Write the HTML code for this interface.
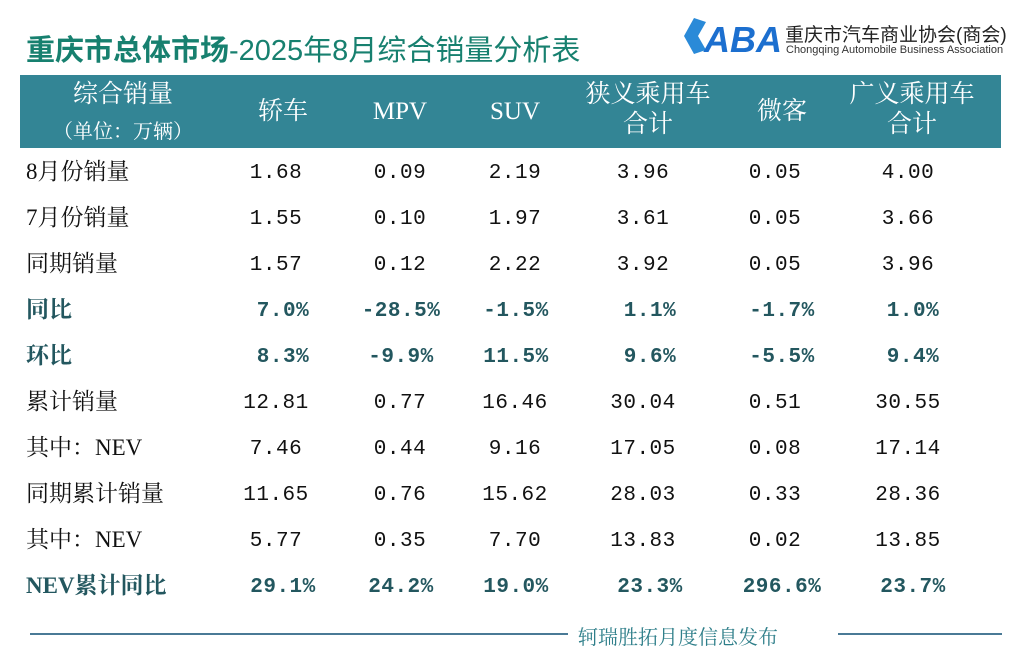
<!DOCTYPE html>
<html><head><meta charset="utf-8"><style>
body{margin:0;width:1036px;height:661px;background:#fff;position:relative;overflow:hidden;font-family:"Liberation Sans","Noto Sans CJK SC",sans-serif}
.a{position:absolute;white-space:nowrap}
.t{left:26px;top:34px;font-size:29px;line-height:34px;color:#17806f;font-family:"Liberation Sans","Noto Sans CJK SC",sans-serif}
.hd{position:absolute;left:20px;top:75px;width:981px;height:73px;background:#338595}
.h{position:absolute;color:#fff;font-family:"Liberation Serif","Noto Serif CJK SC",serif;font-size:25px;transform:translateX(-50%);text-align:center;line-height:30px;white-space:nowrap}
.l{position:absolute;left:26px;font-size:23px;line-height:24px;height:24px;margin-top:-13px;color:#111;font-family:"Liberation Serif","Noto Serif CJK SC",serif;white-space:nowrap}
.v{position:absolute;font-family:"Liberation Mono","Noto Serif CJK SC",monospace;font-size:21px;line-height:22px;margin-top:-10px;color:#111;transform:translateX(-50%);letter-spacing:0.5px}
.p{color:#23575f;font-weight:bold}
.pl{color:#23575f;font-weight:bold}
</style></head><body>
<div class="a t"><b>重庆市总体市场</b>-2025年8月综合销量分析表</div>
<div class="a" style="left:680px;top:14px;width:110px;height:46px">
<svg width="110" height="46"><polygon points="4,22 14,4 26,8 18,22 26,36 14,40" fill="#2a8ad8"/><text x="24" y="38" font-family="Liberation Sans" font-weight="bold" font-size="36" fill="#1c6fcf" font-style="italic">ABA</text></svg></div>
<div class="a" style="left:785px;top:20px;font-size:19px;color:#222">重庆市汽车商业协会(商会)</div>
<div class="a" style="left:786px;top:44px;font-size:11px;color:#333">Chongqing Automobile Business Association</div>
<div class="hd"></div>
<div class="h" style="left:123px;top:80px">综合销量</div>
<div class="h" style="left:123px;top:117px;font-size:20px">（单位：万辆）</div>
<div class="h" style="left:283px;top:97px">轿车</div>
<div class="h" style="left:400px;top:97px">MPV</div>
<div class="h" style="left:515px;top:97px">SUV</div>
<div class="h" style="left:648px;top:80px">狭义乘用车<br>合计</div>
<div class="h" style="left:782px;top:97px">微客</div>
<div class="h" style="left:912px;top:80px">广义乘用车<br>合计</div>
<div id="rows"></div>
<div class="a" style="left:30px;top:633px;width:538px;height:2px;background:#4a7a96"></div>
<div class="a" style="left:578px;top:621px;font-size:20px;color:#2f7f8a;font-family:'Liberation Serif','Noto Serif CJK SC',serif">轲瑞胜拓月度信息发布</div>
<div class="a" style="left:838px;top:633px;width:164px;height:2px;background:#4a7a96"></div>
<script>
var R=[["8月份销量",0,["1.68","0.09","2.19","3.96","0.05","4.00"]],
["7月份销量",0,["1.55","0.10","1.97","3.61","0.05","3.66"]],
["同期销量",0,["1.57","0.12","2.22","3.92","0.05","3.96"]],
["同比",1,["7.0%","-28.5%","-1.5%","1.1%","-1.7%","1.0%"]],
["环比",1,["8.3%","-9.9%","11.5%","9.6%","-5.5%","9.4%"]],
["累计销量",0,["12.81","0.77","16.46","30.04","0.51","30.55"]],
["其中：NEV",0,["7.46","0.44","9.16","17.05","0.08","17.14"]],
["同期累计销量",0,["11.65","0.76","15.62","28.03","0.33","28.36"]],
["其中：NEV",0,["5.77","0.35","7.70","13.83","0.02","13.85"]],
["NEV累计同比",1,["29.1%","24.2%","19.0%","23.3%","296.6%","23.7%"]]];
var c0=[276,400,515,643,775,908],c1=[283,401,516,650,782,913],h="";
R.forEach(function(r,i){var y=173+i*46;
h+='<div class="l'+(r[1]?' pl':'')+'" style="top:'+y+'px">'+r[0]+'</div>';
r[2].forEach(function(v,j){h+='<div class="v'+(r[1]?' p':'')+'" style="left:'+(r[1]?c1:c0)[j]+'px;top:'+y+'px">'+v+'</div>';});});
document.getElementById("rows").innerHTML=h;
</script>
</body></html>
